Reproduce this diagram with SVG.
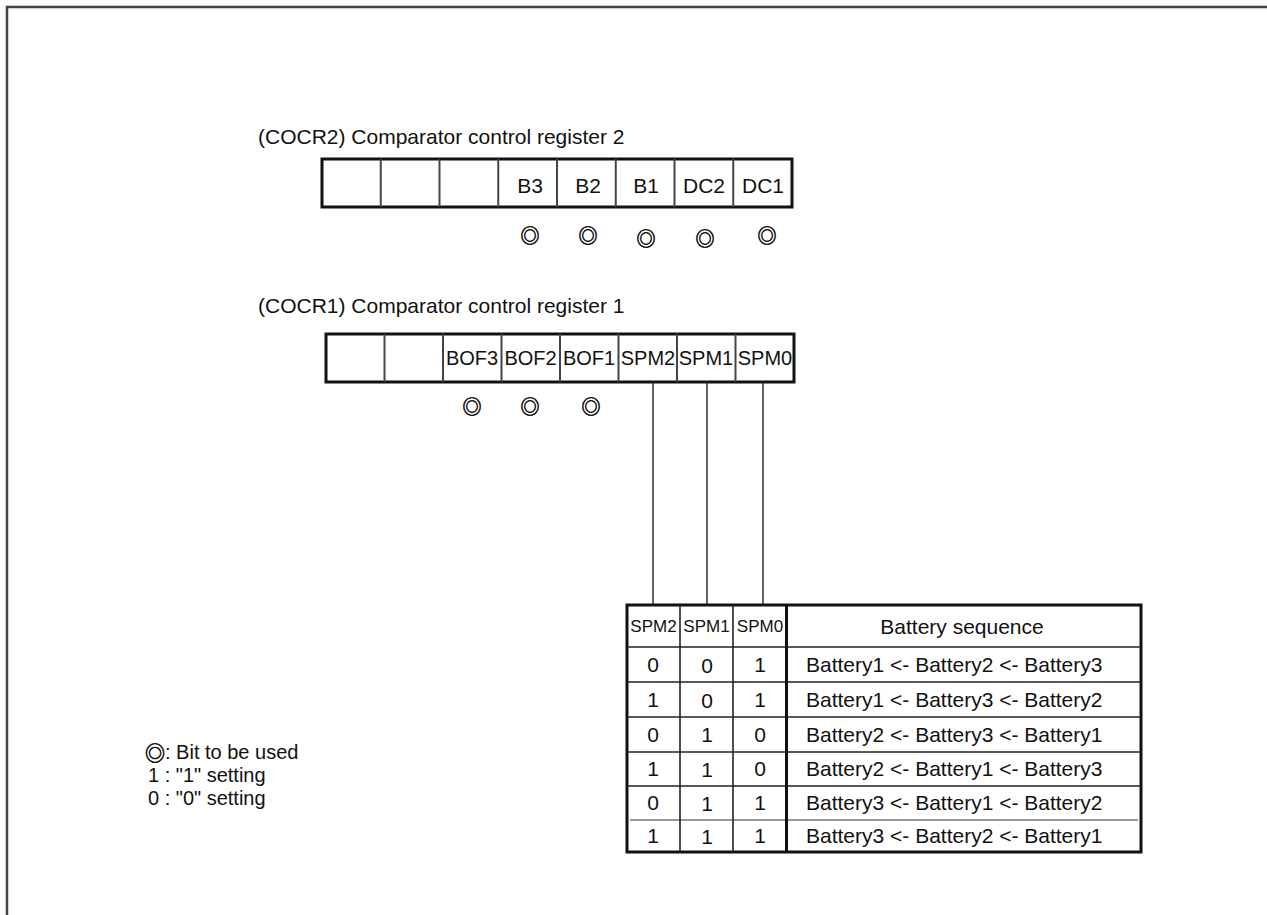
<svg xmlns="http://www.w3.org/2000/svg" width="1267" height="915" viewBox="0 0 1267 915">
<style>
  .t { font-family: "Liberation Sans", Arial, sans-serif; font-size: 21px; fill: #111; }
  .lbl { font-family: "Liberation Sans", Arial, sans-serif; font-size: 20px; fill: #111; text-anchor: middle; }
  .hdr { font-family: "Liberation Sans", Arial, sans-serif; font-size: 17px; fill: #111; text-anchor: middle; }
  .val { font-family: "Liberation Sans", Arial, sans-serif; font-size: 21px; fill: #111; text-anchor: middle; }
  .dot { font-family: "Noto Sans CJK JP", "DejaVu Sans", sans-serif; font-size: 19px; fill: #111; stroke: #111; stroke-width: 0.6; text-anchor: middle; dominant-baseline: central; }
  .outer { fill: #fff; stroke: #111; stroke-width: 3; }
  .div { stroke: #444; stroke-width: 2; fill: none; }
  .tl { stroke: #222; stroke-width: 1.6; fill: none; }
  .conn { stroke: #333; stroke-width: 1.5; fill: none; }
</style>
<rect width="1267" height="915" fill="#fff"/>
<path d="M7,915 V7 H1267" fill="none" stroke="#444" stroke-width="2.5"/>

<g id="cocr2">
  <text class="t" x="258" y="144">(COCR2) Comparator control register 2</text>
  <rect class="outer" x="322" y="159" width="470" height="48"/>
  <path class="div" d="M380.75,159 V207 M439.5,159 V207 M498.25,159 V207 M557,159 V207 M615.75,159 V207 M674.5,159 V207 M733.25,159 V207"/>
  <text class="lbl" x="530" y="193" style="font-size:21px">B3</text>
  <text class="lbl" x="588" y="193" style="font-size:21px">B2</text>
  <text class="lbl" x="646" y="193" style="font-size:21px">B1</text>
  <text class="lbl" x="704" y="193" style="font-size:21px">DC2</text>
  <text class="lbl" x="763" y="193" style="font-size:21px">DC1</text>
  <text class="dot" x="530" y="234">◎</text>
  <text class="dot" x="588" y="234">◎</text>
  <text class="dot" x="646" y="237">◎</text>
  <text class="dot" x="705" y="237">◎</text>
  <text class="dot" x="767" y="234">◎</text>
</g>

<g id="cocr1">
  <text class="t" x="258" y="313">(COCR1) Comparator control register 1</text>
  <rect class="outer" x="326" y="334" width="468" height="48"/>
  <path class="div" d="M384.5,334 V382 M443,334 V382 M501.5,334 V382 M560,334 V382 M618.5,334 V382 M677,334 V382 M735.5,334 V382"/>
  <text class="lbl" x="472" y="365">BOF3</text>
  <text class="lbl" x="530.5" y="365">BOF2</text>
  <text class="lbl" x="589" y="365">BOF1</text>
  <text class="lbl" x="648" y="365">SPM2</text>
  <text class="lbl" x="706" y="365">SPM1</text>
  <text class="lbl" x="765" y="365">SPM0</text>
  <text class="dot" x="472" y="405">◎</text>
  <text class="dot" x="530" y="405">◎</text>
  <text class="dot" x="591" y="405">◎</text>
</g>

<g id="connectors">
  <path class="conn" d="M653,382 V605 M707,382 V605 M763,382 V605"/>
</g>

<g id="table">
  <rect class="outer" x="627" y="605" width="514" height="247"/>
  <path class="tl" d="M627,647 H1141 M627,682 H1141 M627,717 H1141 M627,752 H1141 M627,786 H1141"/>
  <path d="M630,820 H1138" stroke="#333" stroke-width="1.2"/>
  <path class="tl" d="M680,605 V852 M733,605 V852"/>
  <path d="M786.5,605 V852" stroke="#111" stroke-width="3"/>
  <text class="hdr" x="653.5" y="632">SPM2</text>
  <text class="hdr" x="706.5" y="632">SPM1</text>
  <text class="hdr" x="760" y="632">SPM0</text>
  <text class="val" x="962" y="634">Battery sequence</text>

  <text class="val" x="653" y="672">0</text><text class="val" x="707" y="673">0</text><text class="val" x="760" y="672">1</text>
  <text class="t" x="806" y="672">Battery1 &lt;- Battery2 &lt;- Battery3</text>

  <text class="val" x="653" y="707">1</text><text class="val" x="707" y="708">0</text><text class="val" x="760" y="707">1</text>
  <text class="t" x="806" y="707">Battery1 &lt;- Battery3 &lt;- Battery2</text>

  <text class="val" x="653" y="742">0</text><text class="val" x="707" y="742">1</text><text class="val" x="760" y="742">0</text>
  <text class="t" x="806" y="742">Battery2 &lt;- Battery3 &lt;- Battery1</text>

  <text class="val" x="653" y="776">1</text><text class="val" x="707" y="777">1</text><text class="val" x="760" y="776">0</text>
  <text class="t" x="806" y="776">Battery2 &lt;- Battery1 &lt;- Battery3</text>

  <text class="val" x="653" y="810">0</text><text class="val" x="707" y="811">1</text><text class="val" x="760" y="810">1</text>
  <text class="t" x="806" y="810">Battery3 &lt;- Battery1 &lt;- Battery2</text>

  <text class="val" x="653" y="843">1</text><text class="val" x="707" y="844">1</text><text class="val" x="760" y="843">1</text>
  <text class="t" x="806" y="843">Battery3 &lt;- Battery2 &lt;- Battery1</text>
</g>

<g id="legend">
  <text class="dot" x="155" y="752" style="font-size:20px">◎</text>
  <text class="t" x="165" y="759" style="font-size:20px">: Bit to be used</text>
  <text class="t" x="148" y="782" style="font-size:20px">1 : "1" setting</text>
  <text class="t" x="148" y="805" style="font-size:20px">0 : "0" setting</text>
</g>
</svg>
